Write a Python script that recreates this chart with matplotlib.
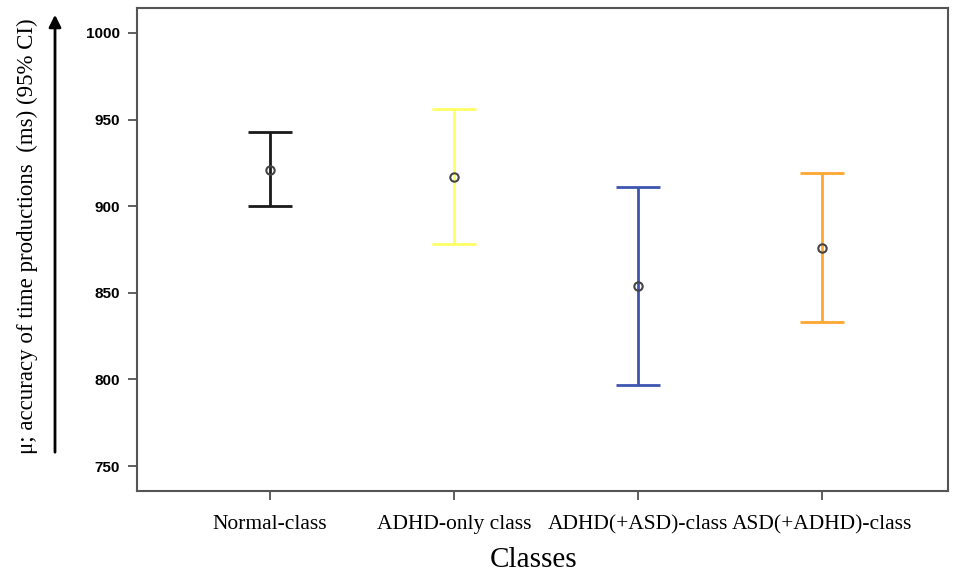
import matplotlib
matplotlib.use("Agg")
import matplotlib.pyplot as plt
import numpy as np

# mean and 95% CI bounds
classes = ["Normal-class", "ADHD-only class", "ADHD(+ASD)-class", "ASD(+ADHD)-class"]
means = [921, 917, 854, 876]
ci_low = [900, 878, 797, 833]
ci_high = [943, 956, 911, 919]
colors = ["#1a1a1a", "#ffff66", "#3f55b0", "#ffa630"]
yticks = [750, 800, 850, 900, 950, 1000]

fig = plt.figure(figsize=(9.73, 5.77), dpi=100)
ax = fig.add_axes([137 / 973, 1 - 491 / 577, (948 - 137) / 973, (491 - 8) / 577])

x = np.arange(1, len(classes) + 1)
for xi, m, lo, hi, c in zip(x, means, ci_low, ci_high, colors):
    ax.errorbar(xi, m, yerr=[[m - lo], [hi - m]], fmt="none", ecolor=c,
                elinewidth=2, capsize=16, capthick=2)
    ax.plot(xi, m, "o", ms=6, mfc="none", mec="#444444", mew=1.5)

ax.set_xlim(0.277, 4.685)
ax.set_ylim(735.6, 1014.4)
ax.set_yticks(yticks)
ax.set_yticklabels([str(v) for v in yticks], fontfamily="Liberation Sans",
                   fontweight="bold", fontsize=11)
ax.set_xticks(x)
ax.set_xticklabels(classes, fontfamily="Liberation Serif", fontsize=15.5)
ax.tick_params(axis="both", length=6.5, width=1.2, color="#444444", pad=6)
ax.tick_params(axis="x", pad=11)
for s in ax.spines.values():
    s.set_color("#555555")
    s.set_linewidth(1.5)

fig.text(534 / 973, 1 - 560 / 577, "Classes", ha="center", va="center",
         fontfamily="Liberation Serif", fontsize=21)
fig.text(27 / 973, 1 - 236 / 577, "μ; accuracy of time productions  (ms) (95% CI)",
         rotation=90, ha="center", va="center", fontfamily="Liberation Serif",
         fontsize=16.5)
fig.add_artist(matplotlib.patches.FancyArrowPatch(
    (55 / 973, 1 - 455 / 577), (55 / 973, 1 - 12 / 577),
    transform=fig.transFigure, arrowstyle="-|>", mutation_scale=18,
    color="black", lw=2))

fig.savefig("out.png", dpi=100)
